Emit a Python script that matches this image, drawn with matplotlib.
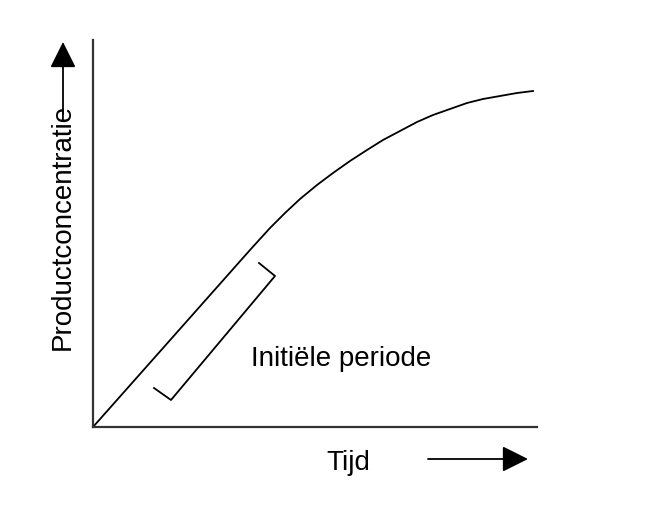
import matplotlib
matplotlib.use("Agg")
import matplotlib.pyplot as plt

plt.rcParams['font.family'] = ['Liberation Sans', 'DejaVu Sans']

# curve (arbitrary units: time, concentration)
tijd = [0, 157, 177, 192, 207, 224, 240, 257, 274, 290, 307, 324, 340, 357, 374, 390, 407, 424, 440]
conc = [0, 177, 199, 214, 228, 242, 254, 266, 277, 287, 296, 305, 312, 318, 324, 328, 331, 334, 336]

# bracket around the initial period
bracket_t = [166, 182, 78, 61]
bracket_c = [164, 151, 27, 39]

fig = plt.figure(figsize=(6.57, 5.12), dpi=100)
ax = fig.add_axes([93 / 657, 85 / 512, 444 / 657, 387 / 512])
ax.set_xlim(0, 444)
ax.set_ylim(0, 387)

ax.plot(tijd, conc, color='black', lw=1.3)
ax.plot(bracket_t, bracket_c, color='black', lw=1.3)

for s in ['top', 'right']:
    ax.spines[s].set_visible(False)
for s in ['left', 'bottom']:
    ax.spines[s].set_linewidth(1.6)
    ax.spines[s].set_color('#333333')
ax.set_xticks([])
ax.set_yticks([])

# arrows next to axis labels
arrow = dict(arrowstyle='-|>,head_length=0.4,head_width=0.2', mutation_scale=40,
             color='black', lw=1.3, shrinkA=0, shrinkB=0)
ax.annotate('', xy=(-30, 385), xytext=(-30, 313), arrowprops=arrow, annotation_clip=False)
ax.annotate('', xy=(435, -32), xytext=(335, -32), arrowprops=arrow, annotation_clip=False)

ax.text(-30, 200, 'Productconcentratie', rotation=90, ha='center', va='center',
        fontsize=20, clip_on=False)
ax.text(255, -43, 'Tijd', ha='center', va='baseline', fontsize=20, clip_on=False)
ax.text(158, 61, 'Initiële periode', ha='left', va='baseline', fontsize=20)

fig.savefig('out.png', dpi=100, facecolor='white')
